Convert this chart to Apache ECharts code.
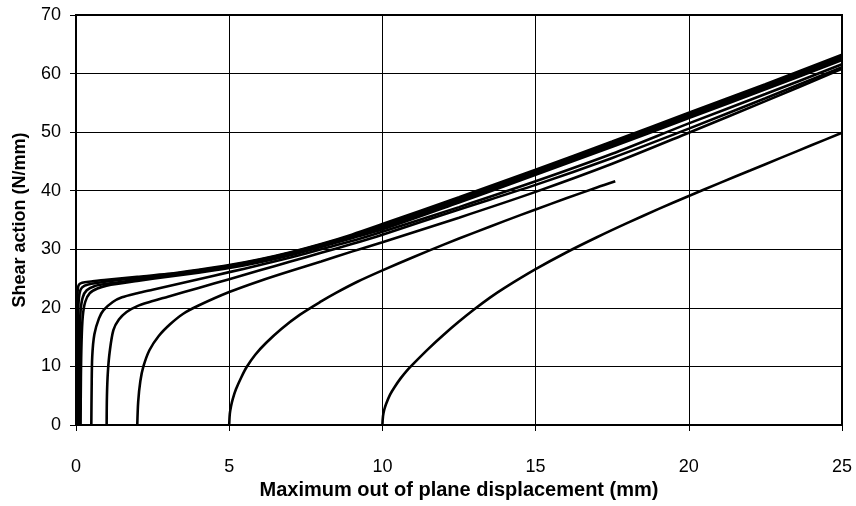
<!DOCTYPE html>
<html>
<head>
<meta charset="utf-8">
<script src="https://cdn.jsdelivr.net/npm/echarts@6/dist/echarts.min.js"></script>
<style>
  html, body { margin: 0; padding: 0; background: #fff; }
  #chart { width: 856px; height: 506px; }
</style>
</head>
<body>
<div id="chart"></div>
<script>
// Load–displacement paths for plates with increasing initial out-of-plane imperfection.
// Each curve is a list of [displacement (mm), shear action (N/mm)] points.
const w002 = [[0.02,0],[0.025,8],[0.03,16],[0.04,21],[0.06,23.3],[0.1,24.0],[0.2,24.3],[0.5,24.5],[1,24.8],[2,25.3],[3,25.8],[4,26.5],[5,27.3],[6,28.3],[7,29.5],[8,30.9],[9,32.5],[10,34.3],[12.5,38.9],[15,43.6],[17.5,48.4],[20,53.3],[22.5,58.2],[25,63.2]];
const w005 = [[0.05,0],[0.055,8],[0.065,16],[0.08,20.5],[0.12,22.6],[0.2,23.5],[0.4,24.0],[1,24.5],[2,25.1],[3,25.7],[4,26.4],[5,27.2],[6,28.2],[7,29.4],[8,30.8],[9,32.3],[10,34.0],[12.5,38.6],[15,43.3],[17.5,48.1],[20,53.0],[22.5,57.9],[25,62.9]];
const w010 = [[0.1,0],[0.105,8],[0.12,15],[0.15,19.5],[0.22,21.8],[0.35,23.0],[0.6,23.7],[1,24.1],[2,24.8],[3,25.5],[4,26.2],[5,27.0],[6,28.0],[7,29.2],[8,30.6],[9,32.1],[10,33.7],[12.5,38.3],[15,43.0],[17.5,47.8],[20,52.7],[22.5,57.6],[25,62.6]];
const w015 = [[0.15,0],[0.16,8],[0.18,14],[0.22,18.5],[0.3,21.0],[0.45,22.5],[0.7,23.3],[1,23.8],[2,24.6],[3,25.3],[4,26.0],[5,26.8],[6,27.8],[7,29.0],[8,30.4],[9,31.9],[10,33.4],[12.5,38.0],[15,42.7],[17.5,47.5],[20,52.4],[22.5,57.3],[25,62.3]];
const w05 = [[0.5,0],[0.51,6],[0.53,11.7],[0.6,15.5],[0.75,18.2],[0.9,19.6],[1.2,21.0],[1.5,21.8],[2,22.5],[2.5,23.1],[3,23.7],[4,24.9],[5,26.1],[6,27.3],[7,28.6],[8,30.0],[9,31.4],[10,33.0],[12.5,37.2],[15,41.6],[17.5,46.3],[20,51.5],[22.5,56.5],[25,61.6]];
const w1 = [[1,0],[1.01,5],[1.04,9],[1.1,12.5],[1.22,16.2],[1.4,18.0],[1.65,19.3],[2,20.3],[2.4,21.0],[3,21.9],[4,23.4],[5,24.9],[6,26.4],[7,27.9],[8,29.4],[9,30.9],[10,32.5],[12.5,36.8],[15,41.0],[17.5,45.6],[20,50.6],[22.5,55.8],[25,61.1]];
const w2 = [[2,0],[2.03,4],[2.1,7.5],[2.2,10],[2.4,12.8],[2.7,15.2],[3.07,17.2],[3.5,19.0],[4,20.4],[5,22.7],[6,24.6],[7,26.3],[8,27.9],[9,29.6],[10,31.2],[12.5,35.4],[15,39.8],[17.5,44.6],[20,49.9],[22.5,55.3],[25,60.8]];
const w5 = [[5,0],[5.02,1.9],[5.06,3.2],[5.12,4.5],[5.22,6.1],[5.4,8.2],[5.57,9.9],[5.85,12.0],[6.2,14.0],[6.7,16.4],[7.3,18.8],[8,21.1],[8.5,22.6],[9.2,24.5],[10,26.4],[11,28.65],[12,30.8],[13,32.85],[14,34.85],[15,36.8],[16,38.7],[17,40.55],[17.6,41.6]];
const w10 = [[10,0],[10.02,1.5],[10.06,2.6],[10.12,3.6],[10.25,5.2],[10.4,6.5],[10.6,8.0],[10.8,9.3],[11,10.4],[11.5,13.0],[12,15.4],[12.5,17.65],[13,19.75],[13.5,21.7],[14,23.45],[15,26.6],[16,29.45],[17,32.05],[18,34.5],[19,36.85],[20,39.1],[21,41.3],[22,43.45],[23,45.6],[24,47.75],[25,49.9]];

const curves = [w002, w005, w010, w015, w05, w1, w2, w5, w10];

const xTicks = { min: 0, max: 25, interval: 5 };
const yTicks = { min: 0, max: 70, interval: 10 };

const FONT = 'Liberation Sans, Arial, sans-serif';

const chart = echarts.init(document.getElementById('chart'), null, { renderer: 'canvas' });

chart.setOption({
  animation: false,
  backgroundColor: '#ffffff',
  grid: { left: 76, right: 14, top: 15, bottom: 81, show: true, borderColor: '#000', borderWidth: 2, backgroundColor: 'transparent' },
  xAxis: {
    type: 'value',
    min: xTicks.min, max: xTicks.max, interval: xTicks.interval,
    name: 'Maximum out of plane displacement (mm)',
    nameLocation: 'middle',
    nameGap: 55,
    nameTextStyle: { fontFamily: FONT, fontSize: 20, fontWeight: 'bold', color: '#000' },
    axisLine: { show: true, onZero: false, lineStyle: { color: '#000', width: 2 } },
    axisTick: { show: true, inside: false, length: 6, lineStyle: { color: '#000', width: 1 } },
    axisLabel: { margin: 33, fontFamily: FONT, fontSize: 18, color: '#000' },
    splitLine: { show: true, lineStyle: { color: '#000', width: 1 } }
  },
  yAxis: {
    type: 'value',
    min: yTicks.min, max: yTicks.max, interval: yTicks.interval,
    name: 'Shear action (N/mm)',
    nameLocation: 'middle',
    nameGap: 47,
    nameTextStyle: { fontFamily: FONT, fontSize: 18, fontWeight: 'bold', color: '#000' },
    axisLine: { show: true, onZero: false, lineStyle: { color: '#000', width: 2 } },
    axisTick: { show: true, inside: false, length: 6, lineStyle: { color: '#000', width: 1 } },
    axisLabel: { margin: 15, fontFamily: FONT, fontSize: 18, color: '#000' },
    splitLine: { show: true, lineStyle: { color: '#000', width: 1 } }
  },
  series: curves.map(function (pts) {
    return {
      type: 'line',
      data: pts,
      showSymbol: false,
      smooth: 0.3,
      clip: true,
      lineStyle: { color: '#000', width: 2.6 },
      emphasis: { disabled: true }
    };
  })
});
</script>
</body>
</html>
